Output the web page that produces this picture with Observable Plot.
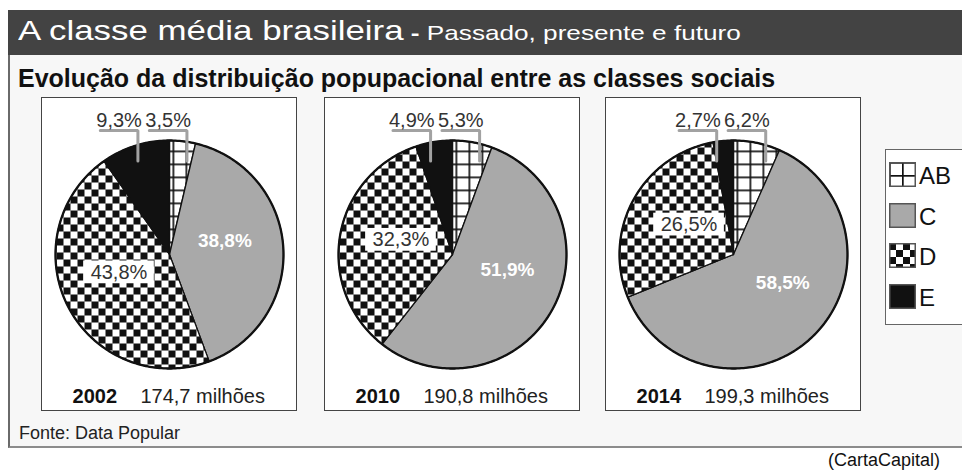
<!DOCTYPE html>
<html lang="pt-BR">
<head>
<meta charset="utf-8">
<script src="https://cdn.jsdelivr.net/npm/d3@7"></script>
<script src="https://cdn.jsdelivr.net/npm/@observablehq/plot@0.6"></script>
<style>
  html, body { margin: 0; padding: 0; }
  body { width: 962px; height: 471px; position: relative; overflow: hidden; background: #ffffff;
         font-family: "Liberation Sans", Arial, Helvetica, sans-serif; color: #111; }
  #panel { position: absolute; left: 8px; top: 10px; width: 954px; height: 438px; background: #f7f7f7;
           border-left: 2px solid #6a6a6a; border-bottom: 2px solid #8c8c8c; box-sizing: border-box; }
  #titlebar { position: absolute; left: 8px; top: 10px; width: 954px; height: 45px; background: #434343; }
  #title { position: absolute; left: 18px; top: 17px; white-space: nowrap; color: #fff; font-size: 28px; line-height: 28px;
           transform: scaleX(1.245); transform-origin: 0 0; }
  #title .t2 { font-size: 21px; }
  #title .dash { font-weight: bold; }
  #subtitle { position: absolute; left: 18px; top: 66px; white-space: nowrap; font-size: 25px; line-height: 25px; font-weight: bold; color: #111; }
  .box { position: absolute; border: 1px solid #444; background: #fff; }
  .box svg { display: block; }
  #legend { position: absolute; left: 885px; top: 149px; width: 90px; height: 176px; background: #fff;
            border: 1.5px solid #666; box-sizing: border-box; }
  .item { position: absolute; left: 3px; display: flex; align-items: flex-start; }
  .item span { font-size: 24px; line-height: 28px; margin-left: 3px; color: #111; }
  .item svg { display: block; }
  #source { position: absolute; left: 19px; top: 424px; font-size: 18px; line-height: 18px; color: #222; white-space: nowrap; }
  #credit { position: absolute; left: 828px; top: 451px; font-size: 18px; line-height: 18px; color: #111; white-space: nowrap; }
</style>
</head>
<body>
<svg width="0" height="0" style="position:absolute">
  <defs>
    <pattern id="pat-ab" width="13" height="13" patternUnits="userSpaceOnUse">
      <rect width="13" height="13" fill="#fff"></rect>
      <rect x="0" y="0" width="13" height="1.7" fill="#111"></rect>
      <rect x="0" y="0" width="1.7" height="13" fill="#111"></rect>
    </pattern>
    <pattern id="pat-d" width="14" height="14" patternUnits="userSpaceOnUse">
      <rect width="14" height="14" fill="#fff"></rect>
      <rect x="0" y="0" width="7" height="7" fill="#111"></rect>
      <rect x="7" y="7" width="7" height="7" fill="#111"></rect>
    </pattern>
  </defs>
</svg>
<div id="panel"></div>
<div id="titlebar"></div>
<div id="title"><span class="t1">A classe média brasileira</span><span class="t2"> <span class="dash">-</span> Passado, presente e futuro</span></div>
<div id="subtitle">Evolução da distribuição popupacional entre as classes sociais</div>
<div id="charts"></div>
<div id="legend"></div>
<div id="source">Fonte: Data Popular</div>
<div id="credit">(CartaCapital)</div>
<script>
// ---- data ----
const years = ["2002", "2010", "2014"];
const populations = ["174,7 milhões", "190,8 milhões", "199,3 milhões"];
const classes = ["AB", "C", "D", "E"];
const shareAB = [3.5, 5.3, 6.2];
const shareC = [38.8, 51.9, 58.5];
const shareD = [43.8, 32.3, 26.5];
const shareE = [9.3, 4.9, 2.7];

// ---- styles / layout ----
const fills = { AB: "url(#pat-ab)", C: "#a9a9a9", D: "url(#pat-d)", E: "#111111" };
const W = 254, H = 312, R = 114;
const boxLeft = [41, 324, 605];
const boxTop = 97;
const fmt = v => v.toFixed(1).replace(".", ",") + "%";
const font = "'Liberation Sans', Arial, Helvetica, sans-serif";

const charts = document.getElementById("charts");

years.forEach((year, i) => {
  const values = [shareAB[i], shareC[i], shareD[i], shareE[i]];
  const total = d3.sum(values);
  let acc = 0;
  const slices = classes.map((cls, k) => {
    const a0 = acc / total * 2 * Math.PI;
    acc += values[k];
    const a1 = acc / total * 2 * Math.PI;
    return { cls, value: values[k], a0, a1 };
  });
  const pt = (r, a) => ({ x: r * Math.sin(a), y: r * Math.cos(a) });
  const byCls = Object.fromEntries(slices.map(s => [s.cls, s]));

  const slicePts = slices.flatMap(s => {
    const n = Math.max(2, Math.ceil((s.a1 - s.a0) / (Math.PI / 180)));
    const pts = [{ cls: s.cls, x: 0, y: 0 }];
    for (let j = 0; j <= n; j++) pts.push({ cls: s.cls, ...pt(1, s.a0 + (s.a1 - s.a0) * j / n) });
    pts.push({ cls: s.cls, x: 0, y: 0 });
    return pts;
  });
  const circle = d3.range(0, 361).map(j => pt(1, j * Math.PI / 180));

  // outside labels (AB and E) with leader lines
  const yLine = 1.088, yEnd = 0.82, run = 0.33, minGap = 0.43;
  const xAB = yEnd * Math.tan(0.8 * byCls.AB.a1);
  const xE = Math.min(yEnd * Math.tan((byCls.E.a0 + byCls.E.a1) / 2), xAB - minGap);
  const outside = [
    { cls: "E", xv: xE, label: fmt(byCls.E.value) },
    { cls: "AB", xv: xAB, label: fmt(byCls.AB.value) }
  ];
  const leaderPts = outside.flatMap(o => [
    { cls: o.cls, x: o.xv - run, y: yLine },
    { cls: o.cls, x: o.xv, y: yLine },
    { cls: o.cls, x: o.xv, y: yEnd }
  ]);
  const outsideText = outside.map(o => ({ x: o.xv - run / 2, y: yLine, label: o.label }));

  // inside labels
  const cS = byCls.C, dS = byCls.D;
  const cPos = pt(0.5, cS.a0 + 0.43 * (cS.a1 - cS.a0));
  const dPos = pt(0.47, dS.a0 + 0.55 * (dS.a1 - dS.a0));
  const cText = [{ ...cPos, label: fmt(cS.value) }];
  const dText = [{ ...dPos, label: fmt(dS.value) }];

  const captionY = -1.25;
  const caption = [{ x: -0.85, y: captionY, label: year }];
  const captionPop = [{ x: -0.255, y: captionY, label: populations[i] }];

  const plot = Plot.plot({
    width: W,
    height: H,
    margin: 0,
    x: { domain: [-W / 2 / R, W / 2 / R], axis: null },
    y: { domain: [-H / 2 / R, H / 2 / R], axis: null },
    style: { background: "#fff", fontFamily: font, overflow: "visible" },
    marks: [
      ...classes.map(cls => Plot.line(slicePts.filter(p => p.cls === cls), {
        x: "x", y: "y", fill: fills[cls], stroke: "#111", strokeWidth: 1.3, strokeLinejoin: "round"
      })),
      Plot.line(circle, { x: "x", y: "y", stroke: "#111", strokeWidth: 2.3 }),
      Plot.line(leaderPts, { x: "x", y: "y", z: "cls", stroke: "#a2a2a2", strokeWidth: 3, strokeLinejoin: "miter" }),
      Plot.text(outsideText, { x: "x", y: "y", text: "label", lineAnchor: "bottom", dy: -3, fontSize: 20, fill: "#333" }),
      Plot.text(cText, { x: "x", y: "y", text: "label", fontSize: 19, fontWeight: "bold", fill: "#fff" }),
      Plot.rect(dText, { x1: d => d.x - 0.31, x2: d => d.x + 0.31, y1: d => d.y - 0.1, y2: d => d.y + 0.1, fill: "#fff" }),
      Plot.text(dText, { x: "x", y: "y", text: "label", fontSize: 20, fill: "#333" }),
      Plot.text(caption, { x: "x", y: "y", text: "label", textAnchor: "start", fontSize: 20, fontWeight: "bold", fill: "#111" }),
      Plot.text(captionPop, { x: "x", y: "y", text: "label", textAnchor: "start", fontSize: 20, fill: "#222" })
    ]
  });

  const box = document.createElement("div");
  box.className = "box";
  box.style.left = boxLeft[i] + "px";
  box.style.top = boxTop + "px";
  box.appendChild(plot);
  charts.appendChild(box);
});

// legend
const legend = document.getElementById("legend");
classes.forEach((cls, k) => {
  const item = document.createElement("div");
  item.className = "item";
  item.style.top = (12 + k * 40.5) + "px";
  const ns = "http://www.w3.org/2000/svg";
  const svg = document.createElementNS(ns, "svg");
  svg.setAttribute("width", 27);
  svg.setAttribute("height", 25);
  const rect = document.createElementNS(ns, "rect");
  rect.setAttribute("x", 0.75); rect.setAttribute("y", 0.75);
  rect.setAttribute("width", 25.5); rect.setAttribute("height", 23.5);
  rect.setAttribute("fill", fills[cls]);
  rect.setAttribute("stroke", "#555");
  rect.setAttribute("stroke-width", 1.5);
  svg.appendChild(rect);
  const span = document.createElement("span");
  span.textContent = cls;
  item.appendChild(svg);
  item.appendChild(span);
  legend.appendChild(item);
});
</script>
</body>
</html>
